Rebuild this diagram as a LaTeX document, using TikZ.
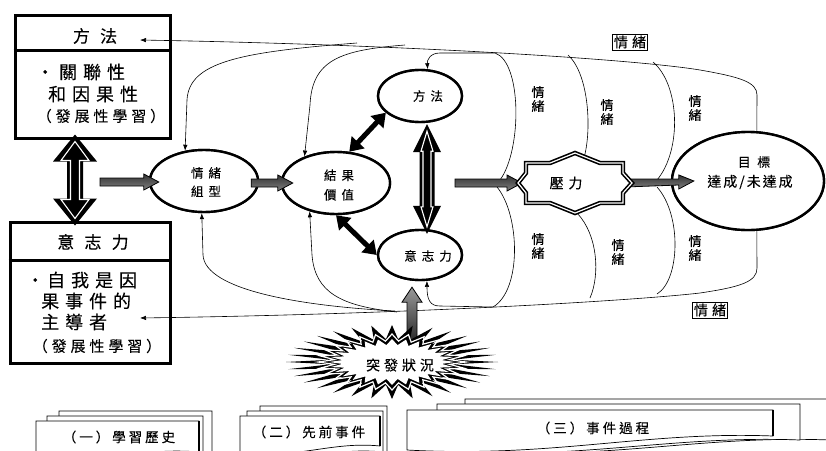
\documentclass[tikz,border=0pt]{standalone}
\usepackage{fontspec}
\setmainfont{Noto Sans CJK TC}[FakeBold=0.12]
\usetikzlibrary{arrows.meta,shapes.geometric,calc}

% CJK text at size #1 with extra letter spacing #2 (per cent of the size)
\newcommand\cjksize[2]{\addfontfeature{LetterSpace=#2}\fontsize{#1}{#1}\selectfont}

% horizontal block arrow with a grey shading, from #1 to #2 (same height)
\newcommand\grayarrowh[2]{%
  \path[blockarrow] let \p1=(#1), \p2=(#2) in
    (\x1,\y1+4pt) -- (\x2-15pt,\y1+4pt) -- (\x2-15pt,\y1+8pt) -- (\x2,\y2)
    -- (\x2-15pt,\y2-8pt) -- (\x2-15pt,\y2-4pt) -- (\x1,\y1-4pt) -- cycle;}
% upward block arrow from base #1 to tip #2
\newcommand\grayarrowv[2]{%
  \path[blockarrowv] let \p1=(#1), \p2=(#2) in
    (\x1-5pt,\y1) -- (\x1-5pt,\y2-15pt) -- (\x1-10pt,\y2-15pt) -- (\x2,\y2)
    -- (\x1+10pt,\y2-15pt) -- (\x1+5pt,\y2-15pt) -- (\x1+5pt,\y1) -- cycle;}
% vertical hollow double arrow: #1 top tip, #2 bottom tip, #3 shaft half width,
% #4 head half width, #5 head length
\newcommand\hollowdouble[5]{%
  \fill[black] let \p1=(#1), \p2=(#2) in
    (\x1,\y1) -- (\x1+#4,\y1-#5) -- (\x1+#3,\y1-#5) -- (\x1+#3,\y2+#5)
    -- (\x1+#4,\y2+#5) -- (\x1,\y2) -- (\x1-#4,\y2+#5) -- (\x1-#3,\y2+#5)
    -- (\x1-#3,\y1-#5) -- (\x1-#4,\y1-#5) -- cycle;
  \draw[white, line width=1.1pt, line join=miter] let \p1=(#1), \p2=(#2) in
    (\x1,\y1-7pt) -- (\x1+#4-8pt,\y1-#5+1pt) -- (\x1+#3-3.5pt,\y1-#5+1pt)
    -- (\x1+#3-3.5pt,\y2+#5-1pt) -- (\x1+#4-8pt,\y2+#5-1pt) -- (\x1,\y2+7pt)
    -- (\x1-#4+8pt,\y2+#5-1pt) -- (\x1-#3+3.5pt,\y2+#5-1pt)
    -- (\x1-#3+3.5pt,\y1-#5+1pt) -- (\x1-#4+8pt,\y1-#5+1pt) -- cycle;}
% a card with a wavy lower edge: left x, top y, right x, bottom y at right, bottom y at left
\newcommand\card[5]{%
  \draw[cardline] (#1,#5) -- (#1,#2) -- (#3,#2) -- (#3,#4)
    .. controls ($(#3,#4)!0.35!(#1,#4)+(0,-5)$) and ($(#3,#5)!0.6!(#1,#5)+(0,8)$) .. (#1,#5);}
% star burst around #1: spikes #2, x radius mean/amplitude #3/#4, y radius mean/amplitude #5/#6
\newcommand\starpath[6]{%
  plot[shift={(#1)}, samples at={0,...,\numexpr2*#2-1\relax}, variable=\k]
    ({cos(\k*180/#2)*(#3+#4*cos(\k*180))}, {sin(\k*180/#2)*(#5+#6*cos(\k*180))}) -- cycle}

\tikzset{
  every node/.style={inner sep=0pt, text=black},
  framebox/.style={draw, line width=3pt, fill=white},
  rule/.style={line width=2.6pt},
  hdr/.style={font=\cjksize{17}{60}},
  body/.style={font=\cjksize{18}{33}, anchor=west},
  paren/.style={font=\cjksize{15}{26}},
  oval/.style={ellipse, draw, line width=2.4pt, fill=white, inner sep=0pt},
  ovaltext/.style={font=\cjksize{12.5}{40}, align=center},
  emolabel/.style={font=\cjksize{13}{0}, align=center},
  tagbox/.style={draw, line width=0.7pt, inner xsep=1.5pt, inner ysep=1.5pt,
    font=\cjksize{14}{30}},
  feedback/.style={line width=0.6pt, -{Latex[length=6pt,width=4.5pt]}},
  thinline/.style={line width=0.6pt},
  blockarrow/.style={draw=black, line width=0.8pt, top color=black!80, bottom color=black!50},
  blockarrowv/.style={draw=black, line width=0.8pt, top color=black!40, bottom color=black!85},
  solidboth/.style={line width=5pt,
    {Triangle[length=13pt,width=17pt]}-{Triangle[length=13pt,width=17pt]}},
  cardline/.style={line width=0.7pt, fill=white},
  tabtext/.style={font=\cjksize{13.5}{22}},
}

\begin{document}
\begin{tikzpicture}[x=1pt,y=-1pt]
\useasboundingbox (0,0) rectangle (826,450);

% ---------- left frames ----------
\node[framebox, minimum width=155pt, minimum height=123pt] (mbox) at (92.5,76.5) {};
\draw[rule] ($(mbox.north west)+(0,37)$) -- ($(mbox.north east)+(0,37)$);
\node[hdr] (mhead) at (95,36) {方法};
\node[body] (mline1) at (36,72) {•\hspace{5pt}關聯性};
\node[body] (mline2) at (48,94) {和因果性};
\node[paren] (mline3) at (101,116) {（發展性學習）};

\node[framebox, minimum width=160pt, minimum height=141pt] (wbox) at (90,292.5) {};
\draw[rule] ($(wbox.north west)+(0,40)$) -- ($(wbox.north east)+(0,40)$);
\node[hdr] (whead) at (93,242) {意志力};
\node[body] (wline1) at (26,280) {•\hspace{3pt}自我是因};
\node[body] (wline2) at (41,301) {果事件的};
\node[body] (wline3) at (41,322) {主導者};
\node[paren] (wline4) at (97,346) {（發展性學習）};

% ---------- ovals (placed first so curves can end on them) ----------
\node[oval, minimum width=108pt, minimum height=62pt] (emo) at (204,181) {};
\node[oval, minimum width=108pt, minimum height=62pt] (res) at (336,183) {};
\node[oval, minimum width=84pt, minimum height=52pt] (meth) at (420,96) {};
\node[oval, minimum width=84pt, minimum height=50pt] (will) at (420,255) {};
\node[oval, minimum width=152pt, minimum height=98pt] (goal) at (748,181) {};

% ---------- envelope and feedback curves ----------
\coordinate (mtip) at (140,40);
\coordinate (wtip) at (140,318);
\draw[feedback] (goal.80) -- (757,95) .. controls (757,82) and (740,77) .. (700,70)
  .. controls (640,60) and (420,45) .. (mtip);
\draw[feedback] (goal.280) -- (757,268) .. controls (757,282) and (740,287) .. (700,293)
  .. controls (640,300) and (420,314) .. (wtip);

\coordinate (brA) at (357,43);
\coordinate (brB) at (405,45);
\coordinate (brC) at (395,311);
\coordinate (brD) at (397,312);
\draw[feedback] (brA) .. controls (240,52) and (189,62) .. (187,100) -- (emo.122);
\draw[feedback] (brB) .. controls (340,50) and (312,60) .. (310,105) -- (res.140);
\draw[feedback] (brC) .. controls (300,306) and (205,290) .. (203,255) -- (emo.266);
\draw[feedback] (brD) .. controls (340,306) and (315,292) .. (312,255) -- (res.227);

% first band, tied to the inner ovals
\draw[feedback] (500,180) .. controls (522,150) and (522,62) .. (495,53) -- (440,53)
  .. controls (430,53) and (427,60) .. (meth.74);
\draw[feedback] (497,187) .. controls (520,215) and (522,290) .. (493,307) -- (440,306)
  .. controls (430,306) and (427,300) .. (will.285);
% further bands
\draw[thinline] (568,55) .. controls (590,75) and (592,135) .. (583,161);
\draw[thinline] (577,213) .. controls (598,235) and (600,275) .. (590,298);
\draw[thinline] (653,62) .. controls (680,85) and (682,150) .. (657,180);
\draw[thinline] (657,187) .. controls (682,215) and (680,280) .. (657,294);

\node[emolabel] (e1) at (538,99) {情\\[1pt]緒};
\node[emolabel] (e2) at (607,112) {情\\[1pt]緒};
\node[emolabel] (e3) at (695,108) {情\\[1pt]緒};
\node[emolabel] (e4) at (538,246) {情\\[1pt]緒};
\node[emolabel] (e5) at (618,252) {情\\[1pt]緒};
\node[emolabel] (e6) at (695,248) {情\\[1pt]緒};
\node[tagbox] (tagtop) at (630,42) {情緒};
\node[tagbox] (tagbot) at (710,310) {情緒};

% ---------- ovals redrawn on top of the curves ----------
\node[oval, minimum width=108pt, minimum height=62pt] at (emo) {};
\node[oval, minimum width=108pt, minimum height=62pt] at (res) {};
\node[oval, minimum width=84pt, minimum height=52pt] at (meth) {};
\node[oval, minimum width=84pt, minimum height=50pt] at (will) {};
\node[oval, minimum width=152pt, minimum height=98pt] at (goal) {};
\node[ovaltext] (emotext) at (206,182) {情緒\\[6pt]組型};
\node[ovaltext] (restext) at (339,185) {結果\\[7pt]價值};
\node[ovaltext] (methtext) at (428,96) {方法};
\node[ovaltext] (willtext) at (428,256) {意志力};
\node[font=\cjksize{13}{50}] (goaltext1) at (754,162) {目標};
\node[font=\cjksize{14}{14}] (goaltext2) at (750,182) {達成/未達成};

% ---------- double arrows ----------
\coordinate (bt) at ($(mbox.south)+(-17.5,-5)$);
\coordinate (bb) at ($(wbox.north)+(-15,5)$);
\hollowdouble{bt}{bb}{8pt}{22pt}{27pt}
\coordinate (mt) at ($(meth.south)+(7,1)$);
\coordinate (mb) at ($(will.north)+(7,5)$);
\hollowdouble{mt}{mb}{7.5pt}{14pt}{28pt}
\draw[solidboth] (res.67) -- (meth.206);
\draw[solidboth] (res.south) -- (will.west);

% ---------- grey block arrows ----------
\coordinate (a1s) at (100,182);
\coordinate (a1e) at ($(emo.west)+(10,1)$);
\grayarrowh{a1s}{a1e}
\coordinate (a2s) at ($(emo.east)+(-8,2)$);
\coordinate (a2e) at ($(res.west)+(12,0)$);
\grayarrowh{a2s}{a2e}
\coordinate (press) at (575,183);
\coordinate (a3s) at (455,183);
\coordinate (a3e) at ($(press)+(-53,0)$);
\grayarrowh{a3s}{a3e}
\coordinate (a4s) at ($(press)+(50,0)$);
\coordinate (a4e) at ($(goal.west)+(23,0)$);
\grayarrowh{a4s}{a4e}

% pressure badge
\draw[shift={(press)}, fill=white, line width=1.6pt, double=white, double distance=1.2pt]
  (0,-30) -- (25,-20) -- (48,-20) -- (48,-10) -- (57,0) -- (48,10) -- (48,20)
  -- (25,20) -- (0,30) -- (-25,20) -- (-49,20) -- (-49,10) -- (-57,0) -- (-49,-10)
  -- (-49,-20) -- (-25,-20) -- cycle;
\node[font=\cjksize{14}{35}] (presstext) at ($(press)+(-9,0)$) {壓力};

% ---------- sudden event burst ----------
\coordinate (burst) at (392,362);
\coordinate (a5s) at (412,343);
\coordinate (a5e) at ($(will.south)+(-8,6)$);
\grayarrowv{a5s}{a5e}
\fill[black] \starpath{burst}{32}{84}{22}{30}{7};
\draw[white, line width=1.2pt] \starpath{burst}{28}{66}{8}{24.5}{3.5};
\fill[white] \starpath{burst}{28}{56.5}{6.5}{20}{3};
\node[font=\cjksize{14}{28}] (bursttext) at ($(burst)+(8,3)$) {突發狀況};

% ---------- stage cards ----------
\card{59}{411}{212}{455}{455}
\card{47}{416}{203}{455}{455}
\card{36}{421}{199}{452}{456}
\draw[line width=1.6pt] (199,421) -- (199,452);
\node[tabtext] (tab1) at (119,437) {（一）學習歷史};

\card{260}{406}{387}{452}{455}
\card{247}{411}{383}{452}{455}
\card{240}{416}{380}{446}{452}
\draw[line width=1.6pt] (380,416) -- (380,446);
\node[tabtext] (tab2) at (309,432) {（二）先前事件};

\card{465}{399}{830}{440}{452}
\card{437}{404}{800}{440}{452}
\card{407}{410}{773}{436}{450}
\draw[line width=1.6pt] (773,410) -- (773,436);
\node[tabtext] (tab3) at (593,428) {（三）事件過程};
\end{tikzpicture}
\end{document}
